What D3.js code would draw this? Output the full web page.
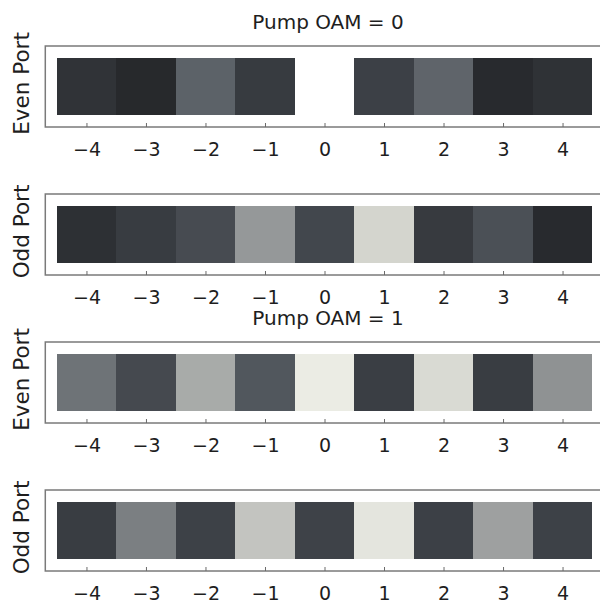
<!DOCTYPE html>
<html>
<head>
<meta charset="utf-8">
<script src="https://cdn.jsdelivr.net/npm/d3@7"></script>
<style>
  html, body { margin: 0; padding: 0; background: #fff; }
  svg { display: block; }
  text { font-family: "DejaVu Sans", sans-serif; fill: #1e1e1e; }
</style>
</head>
<body>
<svg id="chart" width="600" height="602"></svg>
<script>
// OAM modes (x categories)
const modes = [-4, -3, -2, -1, 0, 1, 2, 3, 4];
const tickLabels = ["\u22124", "\u22123", "\u22122", "\u22121", "0", "1", "2", "3", "4"];

// Panel titles & port labels
const titles = ["Pump OAM = 0", null, "Pump OAM = 1", null];
const ports = ["Even Port", "Odd Port", "Even Port", "Odd Port"];

// Normalised intensity per mode (0 = dark, 1 = bright, null = no cell)
const evenOAM0 = [0.07, 0.01, 0.30, 0.12, null, 0.15, 0.31, 0.02, 0.065];
const oddOAM0  = [0.055, 0.125, 0.20, 0.53, 0.18, 0.84, 0.115, 0.22, 0.02];
const evenOAM1 = [0.37, 0.19, 0.62, 0.25, 0.98, 0.14, 0.87, 0.13, 0.50];
const oddOAM1  = [0.13, 0.42, 0.155, 0.75, 0.16, 0.94, 0.15, 0.57, 0.155];

const panels = [evenOAM0, oddOAM0, evenOAM1, oddOAM1];

// Colour scale (grey tones)
const colorStops = [0, 0.15, 0.3, 0.5, 0.7, 0.85, 1];
const colorRange = ["#25272a", "#3c4046", "#5c6268", "#8f9293", "#b9bbb8", "#d6d7d0", "#eeefe7"];
const color = d3.scaleLinear().domain(colorStops).range(colorRange).interpolate(d3.interpolateRgb);

const svg = d3.select("#chart");

const x = d3.scaleLinear().domain([-4.5, 4.5]).range([56.7, 592.3]);
const frameLeft = 45.3, frameRight = 604;
const frameTop0 = 46, pitch = 148, frameH = 81, inset = 11.75;

panels.forEach((vals, i) => {
  const top = frameTop0 + i * pitch;
  const g = svg.append("g");
  const y = d3.scaleLinear().domain([0, 1]).range([top + frameH - inset, top + inset]);

  // cells
  g.selectAll("rect.cell")
    .data(modes.map((m, j) => ({ m, v: vals[j] })).filter(d => d.v !== null))
    .join("rect")
    .attr("class", "cell")
    .attr("x", d => x(d.m - 0.5))
    .attr("width", d => x(d.m + 0.5) - x(d.m - 0.5))
    .attr("y", y(1))
    .attr("height", y(0) - y(1))
    .attr("fill", d => color(d.v))
    .attr("shape-rendering", "crispEdges");

  // frame
  g.append("rect")
    .attr("x", frameLeft).attr("y", top)
    .attr("width", frameRight - frameLeft).attr("height", frameH)
    .attr("fill", "none").attr("stroke", "#7a7a7a").attr("stroke-width", 1.5);

  // bottom axis
  const axis = d3.axisBottom(x)
    .tickValues(modes)
    .tickFormat((d, k) => tickLabels[k])
    .tickSizeInner(-4).tickSizeOuter(0).tickPadding(22);
  const ax = g.append("g").attr("transform", `translate(0,${top + frameH})`).call(axis);
  ax.select(".domain").remove();
  ax.selectAll(".tick line").attr("stroke", "#6a6a6a").attr("stroke-width", 1);
  ax.selectAll(".tick text")
    .attr("font-size", 19)
    .attr("font-family", "DejaVu Sans, sans-serif")
    .attr("fill", "#1e1e1e")
    .attr("dy", null)
    .attr("y", 28.5);

  // port label
  g.append("text")
    .attr("transform", `translate(28.5,${top + frameH / 2 - 3}) rotate(-90)`)
    .attr("text-anchor", "middle")
    .attr("font-size", 21.5)
    .text(ports[i]);

  // title
  if (titles[i]) {
    g.append("text")
      .attr("x", 328).attr("y", top - 17)
      .attr("text-anchor", "middle")
      .attr("font-size", 20)
      .text(titles[i]);
  }
});
</script>
</body>
</html>
